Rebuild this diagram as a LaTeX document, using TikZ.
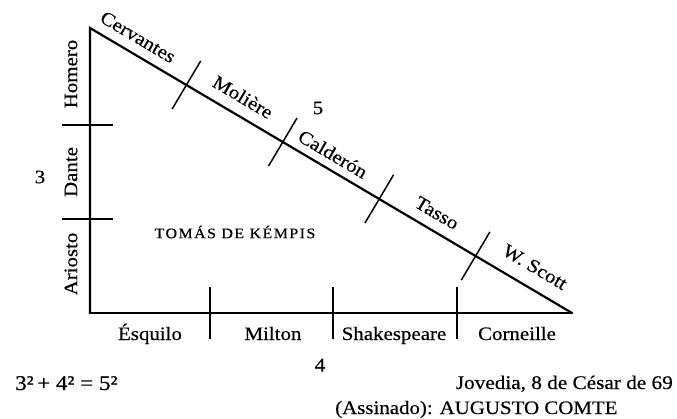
\documentclass[tikz,border=0pt]{standalone}
\usepackage{fontspec}
\setmainfont{Liberation Serif}[FakeStretch=1.1,FakeBold=0.5]
\usetikzlibrary{calc}
\begin{document}
\begin{tikzpicture}[x=1pt,y=-1pt,
  side/.style={line width=2.2pt, line cap=round, line join=miter},
  base/.style={line width=2.8pt, line cap=round},
  tick/.style={line width=1.5pt},
  lbl/.style={inner sep=0pt, font=\fontsize{19}{21}\selectfont},
  hyp/.style={lbl, rotate=-30.6},
  vert/.style={lbl, rotate=90},
  num/.style={inner sep=0pt, font=\fontsize{19}{21}\selectfont}]
\useasboundingbox (0,0) rectangle (677,418);
% vertices
\coordinate (A) at (90,28);
\coordinate (B) at (90,313);
\coordinate (C) at (572,313);
% triangle
\draw[side] (B) -- (A) -- (C);
\draw[base] (B) -- (C);
% left ticks
\coordinate (l1) at ($(A)!0.34!(B)$);
\coordinate (l2) at ($(A)!0.67!(B)$);
\draw[tick] ($(l1)+(-28,0)$) -- ($(l1)+(23,0)$);
\draw[tick] ($(l2)+(-28,0)$) -- ($(l2)+(23,0)$);
% bottom ticks
\coordinate (b1) at (210,313);
\coordinate (b2) at (333,313);
\coordinate (b3) at (457,313);
\foreach \p in {b1,b2,b3}
  \draw[tick] ($(\p)+(0,-26)$) -- ($(\p)+(0,26)$);
% hypotenuse ticks
\foreach \t/\n in {0.2/h1,0.4/h2,0.6/h3,0.8/h4}{
  \coordinate (\n) at ($(A)!\t!(C)$);
  \draw[tick] ($(\n)+(14.3,-24.1)$) -- ($(\n)+(-14.3,24.1)$);
}
% left labels
\node[vert] (homero) at (71,74) {Homero};
\node[vert] (dante) at (71,172) {Dante};
\node[vert] (ariosto) at (71,264) {Ariosto};
% hypotenuse labels
\node[hyp] (cervantes) at (138,37) {Cervantes};
\node[hyp] (moliere) at (243,97) {Molière};
\node[hyp] (calderon) at (333,154) {Calderón};
\node[hyp] (tasso) at (437,213) {Tasso};
\node[hyp] (scott) at (535,267) {W. Scott};
% bottom labels
\node[lbl, anchor=base] (esquilo) at (150,340) {Ésquilo};
\node[lbl, anchor=base] (milton) at (273,340) {Milton};
\node[lbl, anchor=base] (shakespeare) at (394,340) {Shakespeare};
\node[lbl, anchor=base] (corneille) at (517,340) {Corneille};
% numbers
\node[num] (n3) at (40,177) {3};
\node[num] (n4) at (320,365) {4};
\node[num] (n5) at (318,108) {5};
% centre
\node[inner sep=0pt, font=\fontsize{14.5}{16}\selectfont\addfontfeatures{LetterSpace=10}] (kempis) at (235,232) {TOMÁS DE KÉMPIS};
% bottom texts
\node[inner sep=0pt, anchor=base west, font=\fontsize{21}{23}\selectfont] (eq) at (15,390) {3²\,+\ 4²\ =\ 5²};
\node[inner sep=0pt, anchor=base east, font=\fontsize{19.3}{21}\selectfont] (date) at (673,389) {Jovedia, 8 de César de 69};
\node[inner sep=0pt, anchor=base west, font=\fontsize{19}{21}\selectfont] (sign) at (335,414) {(Assinado): AUGUSTO COMTE};
\end{tikzpicture}
\end{document}
